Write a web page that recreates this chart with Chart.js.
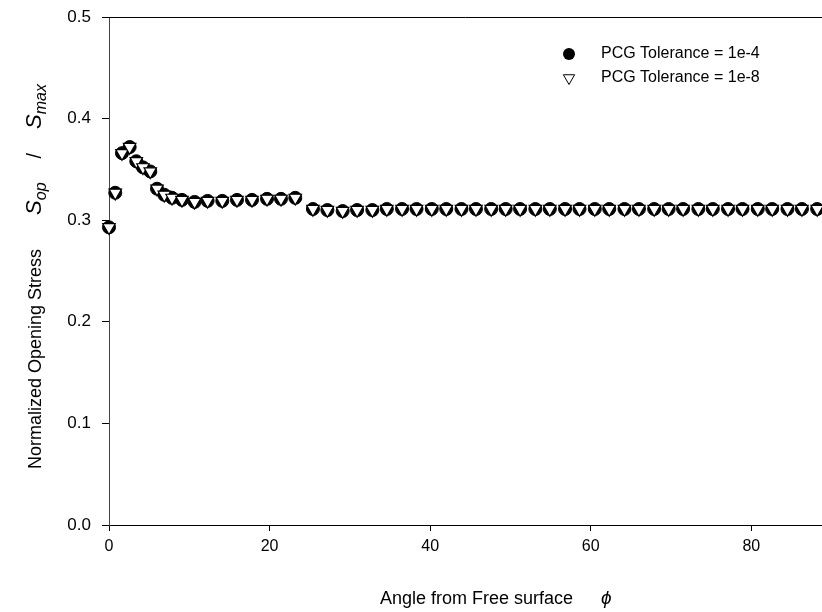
<!DOCTYPE html>
<html><head><meta charset="utf-8">
<script src="https://cdn.jsdelivr.net/npm/chart.js@4.4.0/dist/chart.umd.min.js"></script>
<style>html,body{margin:0;padding:0;background:#fff;} #wrap{width:822px;height:612px;}</style>
</head><body><div id="wrap"><canvas id="c" width="822" height="612"></canvas></div>
<script>
// ---- data ----
const angles = [0, 0.78, 1.62, 2.57, 3.40, 4.23, 5.14, 5.98, 6.89, 7.85, 9.09, 10.66, 12.28, 14.11, 15.94, 17.81, 19.68, 21.42, 23.20,
  25.4, 27.2, 29.1, 30.9, 32.8, 34.6, 36.5, 38.3, 40.2, 42.0, 43.9, 45.7, 47.6, 49.4, 51.2, 53.1, 54.9, 56.8, 58.6, 60.5,
  62.3, 64.2, 66.0, 67.9, 69.7, 71.5, 73.4, 75.2, 77.1, 78.9, 80.8, 82.6, 84.5, 86.3, 88.2];
const tol1e4 = [0.293, 0.327, 0.366, 0.372, 0.358, 0.352, 0.348, 0.331, 0.325, 0.322, 0.320, 0.318, 0.319, 0.319, 0.320, 0.320, 0.321, 0.321, 0.322,
  0.311, 0.310, 0.309, 0.310, 0.310, 0.311, 0.311, 0.311, 0.311, 0.311, 0.311, 0.311, 0.311, 0.311, 0.311, 0.311, 0.311, 0.311, 0.311, 0.311,
  0.311, 0.311, 0.311, 0.311, 0.311, 0.311, 0.311, 0.311, 0.311, 0.311, 0.311, 0.311, 0.311, 0.311, 0.311];
const tol1e8 = [0.293, 0.327, 0.366, 0.372, 0.358, 0.352, 0.348, 0.331, 0.325, 0.322, 0.320, 0.318, 0.319, 0.319, 0.320, 0.320, 0.321, 0.321, 0.322,
  0.311, 0.310, 0.309, 0.310, 0.310, 0.311, 0.311, 0.311, 0.311, 0.311, 0.311, 0.311, 0.311, 0.311, 0.311, 0.311, 0.311, 0.311, 0.311, 0.311,
  0.311, 0.311, 0.311, 0.311, 0.311, 0.311, 0.311, 0.311, 0.311, 0.311, 0.311, 0.311, 0.311, 0.311, 0.311];
const xTickValues = [0, 20, 40, 60, 80];
const yTickValues = [0.0, 0.1, 0.2, 0.3, 0.4, 0.5];
const seriesNames = ['PCG Tolerance = 1e-4', 'PCG Tolerance = 1e-8'];
const xTitle = 'Angle from Free surface';
const yTitle = 'Normalized Opening Stress';

const FONT = "'Liberation Sans', Arial, sans-serif";

const toPts = (xs, ys) => xs.map((x, i) => ({x: x, y: ys[i]}));

const extras = {
  id: 'extras',
  afterDraw(chart) {
    const ctx = chart.ctx;
    const a = chart.chartArea;
    ctx.save();
    // top frame line
    ctx.strokeStyle = '#000'; ctx.lineWidth = 1;
    ctx.beginPath(); ctx.moveTo(a.left, Math.round(a.top) + 0.5); ctx.lineTo(chart.width, Math.round(a.top) + 0.5); ctx.stroke();

    // legend
    const lx = 569, ly1 = 54, ly2 = 78;
    ctx.fillStyle = '#000';
    ctx.beginPath(); ctx.arc(lx, ly1, 6, 0, Math.PI * 2); ctx.fill();
    ctx.fillStyle = '#fff'; ctx.strokeStyle = '#000'; ctx.lineWidth = 1;
    Chart.helpers.drawPoint(ctx, {pointStyle: 'triangle', radius: 6.5, rotation: 180, borderWidth: 1}, lx, ly2);
    ctx.fillStyle = '#000';
    ctx.font = '16px ' + FONT; ctx.textAlign = 'left'; ctx.textBaseline = 'middle';
    ctx.fillText(seriesNames[0], 601, ly1);
    ctx.fillText(seriesNames[1], 601, ly2);

    // x title
    ctx.font = '18px ' + FONT; ctx.textBaseline = 'alphabetic';
    const xt = 380, yb = 604;
    ctx.fillText(xTitle, xt, yb);
    const w1 = ctx.measureText(xTitle).width;
    ctx.font = 'italic 19px ' + FONT;
    ctx.fillText('\u03D5', xt + w1 + 28, yb);

    // y title (rotated)
    ctx.translate(41, 469);
    ctx.rotate(-Math.PI / 2);
    let px = 0;
    const seg = (t, font, dy) => { ctx.font = font; ctx.fillText(t, px, dy); px += ctx.measureText(t).width; };
    seg(yTitle, '18px ' + FONT, 0);
    px += 34;
    seg('S', 'italic 22px ' + FONT, 0);
    seg('op', 'italic 16px ' + FONT, 5);
    px += 24;
    seg('/', '20px ' + FONT, 0);
    px += 24;
    seg('S', 'italic 22px ' + FONT, 0);
    seg('max', 'italic 16px ' + FONT, 5);
    ctx.restore();
  }
};

new Chart(document.getElementById('c'), {
  type: 'scatter',
  data: {
    datasets: [
      {label: seriesNames[1], data: toPts(angles, tol1e8), pointStyle: 'triangle', rotation: 180, pointRadius: 7.2,
       backgroundColor: '#fff', borderColor: '#000', borderWidth: 1.2, order: 0, clip: false},
      {label: seriesNames[0], data: toPts(angles, tol1e4), pointStyle: 'circle', pointRadius: 6.5,
       backgroundColor: '#000', borderColor: '#000', borderWidth: 1, order: 1, clip: false}
    ]
  },
  options: {
    responsive: false, animation: false, devicePixelRatio: 1,
    layout: {autoPadding: false, padding: {top: 17, right: 0, bottom: 0, left: 0}},
    plugins: {legend: {display: false}, tooltip: {enabled: false}},
    scales: {
      x: {
        type: 'linear', position: 'bottom', min: 0, max: 88.8,
        afterBuildTicks: s => { s.ticks = xTickValues.map(v => ({value: v})); },
        afterFit: s => { s.height = 87; s.paddingLeft = 0; s.paddingRight = 0; },
        border: {display: true, color: '#000', width: 1},
        grid: {display: true, drawOnChartArea: false, drawTicks: true, tickLength: 6, color: '#000'},
        ticks: {color: '#000', font: {family: FONT, size: 16}, padding: 6, maxRotation: 0, callback: v => String(v)}
      },
      y: {
        type: 'linear', min: 0, max: 0.5,
        afterBuildTicks: s => { s.ticks = yTickValues.map(v => ({value: v})); },
        afterFit: s => { s.width = 109; s.paddingTop = 0; s.paddingBottom = 0; },
        border: {display: true, color: '#444', width: 1},
        grid: {display: true, drawOnChartArea: false, drawTicks: true, tickLength: 7, color: '#000'},
        ticks: {color: '#000', font: {family: FONT, size: 17}, padding: 11, callback: v => Number(v).toFixed(1)}
      }
    }
  },
  plugins: [extras]
});
</script></body></html>
